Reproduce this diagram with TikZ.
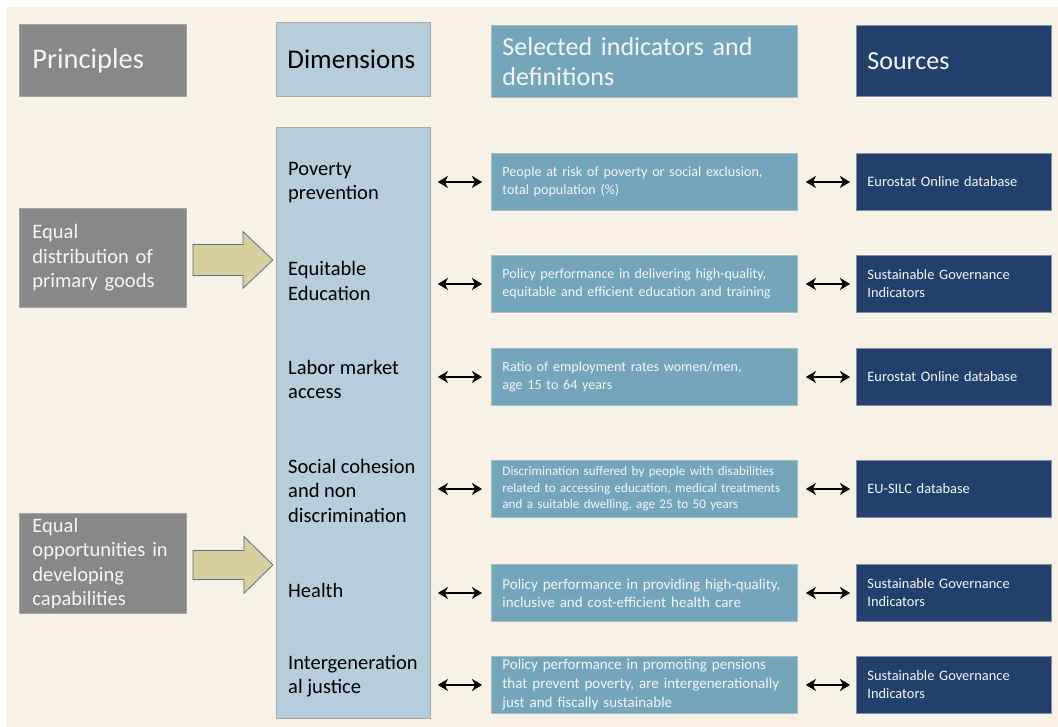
\documentclass[tikz,border=0pt]{standalone}
\usepackage{fontspec}
\setmainfont{Carlito}
\usetikzlibrary{arrows.meta,calc}
\definecolor{paper}{HTML}{F7F2E5}
\definecolor{princgray}{HTML}{888888}
\definecolor{princline}{HTML}{A5A5A5}
\definecolor{dimfill}{HTML}{B6CEDB}
\definecolor{dimline}{HTML}{A8A8A8}
\definecolor{indfill}{HTML}{75A5BA}
\definecolor{indline}{HTML}{A2BFCB}
\definecolor{srcfill}{HTML}{233F6C}
\definecolor{srcline}{HTML}{7F90AA}
\definecolor{flowfill}{HTML}{D9CF9C}
\definecolor{flowline}{HTML}{5D7190}
\definecolor{lighttext}{HTML}{F6F6F6}
\begin{document}
\begin{tikzpicture}[x=1pt,y=-1pt,
  box/.style={anchor=north west, align=left, line width=0.9pt, inner ysep=0pt},
  headfont/.style={font=\fontsize{27}{31}\selectfont},
  princbox/.style={box, fill=princgray, draw=princline, text=lighttext,
    minimum width=167pt, inner xsep=13pt, text width=141pt},
  dimbox/.style={box, fill=dimfill, draw=dimline, text=black,
    minimum width=154pt, inner xsep=11pt, text width=132pt},
  indbox/.style={box, fill=indfill, draw=indline, text=lighttext,
    minimum width=306pt, minimum height=57pt, inner xsep=11pt, text width=284pt,
    font=\fontsize{14.1}{18}\selectfont},
  srcbox/.style={box, fill=srcfill, draw=srcline, text=lighttext,
    minimum width=195pt, minimum height=57pt, inner xsep=11pt, text width=173pt,
    font=\fontsize{14.4}{18}\selectfont},
  dimlabel/.style={anchor=west, align=left, inner sep=0pt,
    font=\fontsize{20.5}{24.5}\selectfont},
  dbl/.style={{Stealth[length=10pt,width=12pt,inset=3pt]}-{Stealth[length=10pt,width=12pt,inset=3pt]}, line width=1.7pt, black},
  flow/.style={fill=flowfill, draw=flowline, line width=0.8pt, line join=miter}]

\useasboundingbox (0,0) rectangle (1058,727);
\fill[white] (0,0) rectangle (1058,727);
\fill[paper] (6,7) rectangle (1058,727);

% column headers
\node[princbox, font=\fontsize{28.5}{33}\selectfont, minimum height=72pt] (hprin) at (19,24) {Principles};
\node[dimbox, headfont, minimum height=74pt] (hdim) at (276,22) {Dimensions};
\node[indbox, minimum height=72pt, font=\fontsize{26}{30}\selectfont] (hind) at (491,25)
  {Selected indicators and\\definitions};
\node[srcbox, minimum height=71pt, font=\fontsize{26}{30}\selectfont] (hsrc) at (856,25) {Sources};

% principles
\node[princbox, minimum height=99pt, font=\fontsize{20.5}{24.5}\selectfont] (p1) at (19,208)
  {Equal\\distribution of\\primary goods};
\node[princbox, minimum height=100pt, font=\fontsize{20.5}{24.5}\selectfont] (p2) at (19,513)
  {Equal\\opportunities in\\developing\\capabilities};

% dimensions column
\node[dimbox, minimum height=591pt] (dims) at (276,127) {};
\node[dimlabel] (d1) at (288,182.5) {Poverty\\prevention};
\node[dimlabel] (d2) at (288,281) {Equitable\\Education};
\node[dimlabel] (d3) at (288,379.5) {Labor market\\access};
\node[dimlabel] (d4) at (288,490.5) {Social cohesion\\and non\\discrimination};
\node[dimlabel] (d5) at (288,590) {Health};
\node[dimlabel] (d6) at (288,676) {Intergeneration\\al justice};

% principles feed the dimensions
\draw[flow] ($(p1.east)+(6,-13.5)$) -- ($(p1.east)+(56,-13.5)$) -- ($(p1.east)+(56,-26.5)$)
  -- ($(p1.east)+(86,2)$) -- ($(p1.east)+(56,30.5)$) -- ($(p1.east)+(56,17.5)$)
  -- ($(p1.east)+(6,17.5)$) -- cycle;
\draw[flow] ($(p2.east)+(6,-13)$) -- ($(p2.east)+(57,-13)$) -- ($(p2.east)+(57,-27)$)
  -- ($(p2.east)+(86,1.5)$) -- ($(p2.east)+(57,30)$) -- ($(p2.east)+(57,16)$)
  -- ($(p2.east)+(6,16)$) -- cycle;

% indicators
\node[indbox] (i1) at (491,153) {People at risk of poverty or social exclusion,\\total population (\%)};
\node[indbox] (i2) at (491,255) {Policy performance in delivering high-quality,\\equitable and efficient education and training};
\node[indbox] (i3) at (491,348) {Ratio of employment rates women/men,\\age 15 to 64 years};
\node[indbox, font=\fontsize{13.1}{16.5}\selectfont] (i4) at (491,460)
  {Discrimination suffered by people with disabilities\\related to accessing education, medical treatments\\and a suitable dwelling, age 25 to 50 years};
\node[indbox, font=\fontsize{15}{18}\selectfont] (i5) at (491,564)
  {Policy performance in providing high-quality,\\inclusive and cost-efficient health care};
\node[indbox, font=\fontsize{15}{19}\selectfont] (i6) at (491,656)
  {Policy performance in promoting pensions\\that prevent poverty, are intergenerationally\\just and fiscally sustainable};

% sources
\node[srcbox] (s1) at (856,153) {Eurostat Online database};
\node[srcbox] (s2) at (856,255) {Sustainable Governance\\Indicators};
\node[srcbox] (s3) at (856,348) {Eurostat Online database};
\node[srcbox] (s4) at (856,460) {EU-SILC database};
\node[srcbox] (s5) at (856,564) {Sustainable Governance\\Indicators};
\node[srcbox] (s6) at (856,656) {Sustainable Governance\\Indicators};

% two-way links
\foreach \r in {1,...,6}{
  \draw[dbl] ([xshift=7pt]dims.east |- i\r.west) -- ([xshift=-9pt]i\r.west);
  \draw[dbl] ([xshift=8pt]i\r.east) -- ([xshift=-6pt]s\r.west);
}
\end{tikzpicture}
\end{document}
